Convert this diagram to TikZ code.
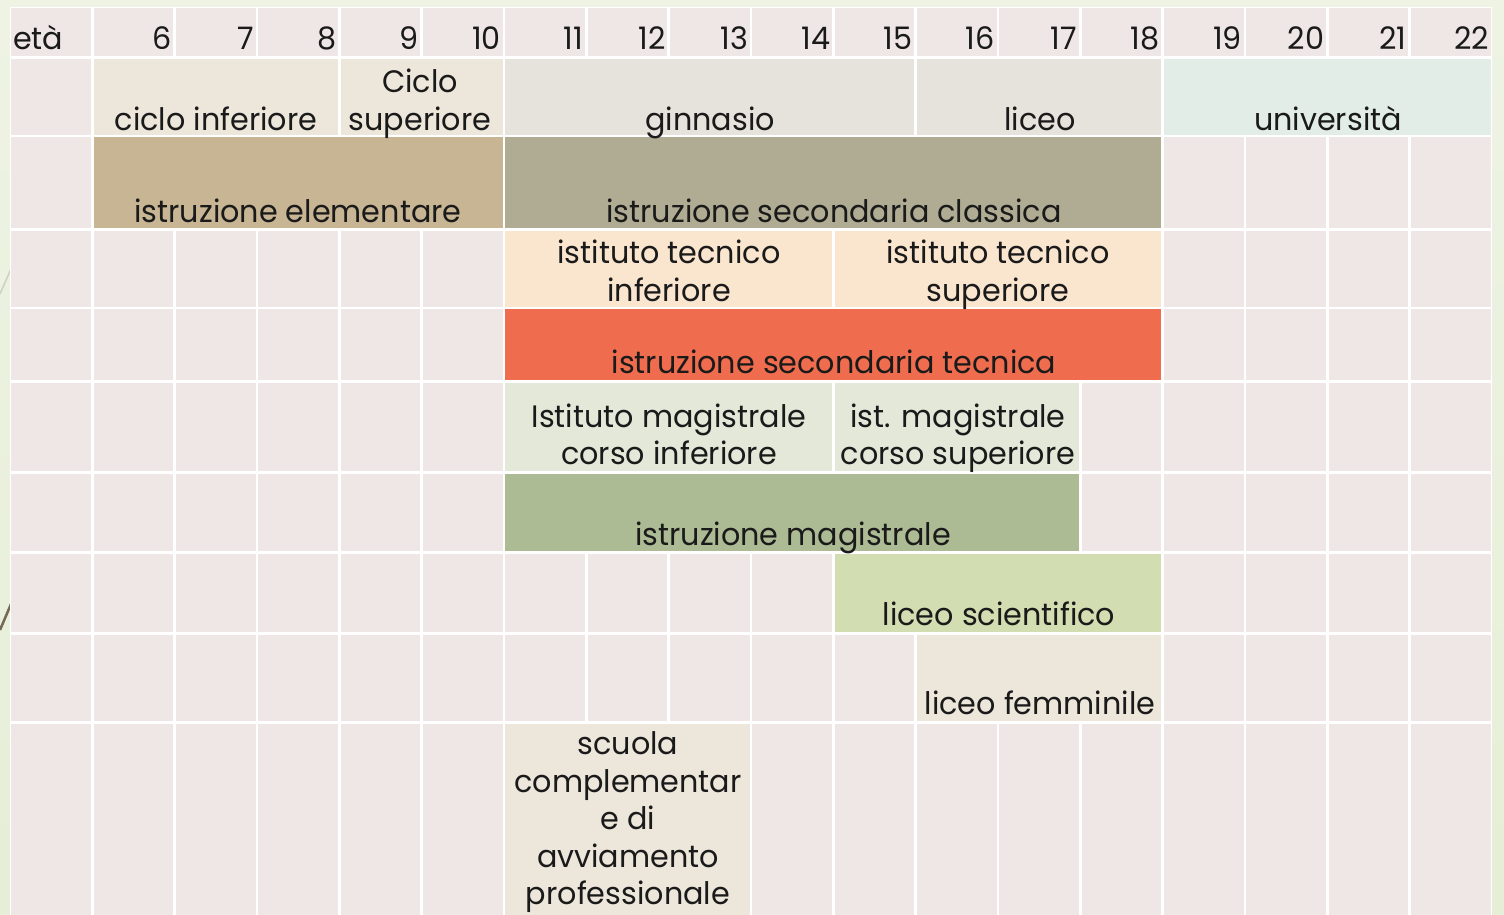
\documentclass[tikz,border=0pt]{standalone}
\usepackage{fontspec}
\setmainfont{Poppins}[FakeStretch=0.975]
\definecolor{bgg}{HTML}{E6EED7}
\definecolor{bgtop}{HTML}{EEF3E4}
\definecolor{empt}{HTML}{EFE7E6}
\definecolor{beige}{HTML}{EDE6DB}
\definecolor{ginn}{HTML}{E6E3DC}
\definecolor{univ}{HTML}{E2EDE8}
\definecolor{elem}{HTML}{C7B593}
\definecolor{class}{HTML}{B0AC93}
\definecolor{tecn}{HTML}{FAE5CF}
\definecolor{orng}{HTML}{EF6D4E}
\definecolor{magl}{HTML}{E3E8D9}
\definecolor{magd}{HTML}{ADBB95}
\definecolor{lsci}{HTML}{D2DDB1}
\definecolor{txt}{HTML}{1A1A1A}
\definecolor{decl}{HTML}{CDD0C2}
\definecolor{decd}{HTML}{736A55}
\def\RB{{7,57.5,136,229.5,308,381.5,472.5,552.5,633.5,722.5,950}}
\newcommand\cellrect[4]{%
  \pgfmathsetmacro\xa{10+82.333*#1+1.4}%
  \pgfmathsetmacro\xb{10+82.333*(#2+1)-1.4}%
  \pgfmathsetmacro\ya{\RB[#3]+1.4}%
  \pgfmathsetmacro\yb{\RB[#3+1]-1.4}%
  \fill[#4] (\xa,\ya) rectangle (\xb,\yb);}
\begin{document}
\begin{tikzpicture}[x=1pt,y=-1pt,
  lbl/.style={inner sep=0pt, anchor=base, text=txt, font=\fontsize{31}{37.5}\selectfont},
  hdr/.style={lbl, anchor=base east}]
\useasboundingbox (0,0) rectangle (1504,914);
\clip (0,0) rectangle (1504,914);
% background
\shade[top color=bgtop, bottom color=bgg] (0,0) rectangle (1504,914);
\draw[decl, line width=1.5pt] (0,294) -- (14,262);
\draw[decd, line width=2.5pt] (0,630) -- (14,597);
% table base
\fill[white] (10,7) rectangle (1492,950);
% all single cells
\foreach \r in {0,...,9}{\foreach \c in {0,...,17}{\cellrect{\c}{\c}{\r}{empt}}}
% merged cells
\cellrect{1}{3}{1}{beige}
\cellrect{4}{5}{1}{beige}
\cellrect{6}{10}{1}{ginn}
\cellrect{11}{13}{1}{ginn}
\cellrect{14}{17}{1}{univ}
\cellrect{1}{5}{2}{elem}
\cellrect{6}{13}{2}{class}
\cellrect{6}{9}{3}{tecn}
\cellrect{10}{13}{3}{tecn}
\cellrect{6}{13}{4}{orng}
\cellrect{6}{9}{5}{magl}
\cellrect{10}{12}{5}{magl}
\cellrect{6}{12}{6}{magd}
\cellrect{10}{13}{7}{lsci}
\cellrect{11}{13}{8}{beige}
\cellrect{6}{8}{9}{beige}
% header
\node[lbl, anchor=base west] (eta) at (13,49) {età};
\foreach \c in {1,...,17}{
  \pgfmathtruncatemacro\age{\c+5}
  \pgfmathsetmacro\xr{10+82.333*(\c+1)-3}
  \node[hdr] (h\c) at (\xr,49) {\age};}
% labels
\node[lbl] (cinf) at (216,130) {ciclo inferiore};
\node[lbl] (csup1) at (420,92.5) {Ciclo};
\node[lbl] (csup2) at (420,130) {superiore};
\node[lbl] (ginn) at (710,130) {ginnasio};
\node[lbl] (lic) at (1040,130) {liceo};
\node[lbl] (uni) at (1328,130) {università};
\node[lbl] (elem) at (298,222) {istruzione elementare};
\node[lbl] (class) at (834,222) {istruzione secondaria classica};
\node[lbl] (tinf1) at (669,263.5) {istituto tecnico};
\node[lbl] (tinf2) at (669,301) {inferiore};
\node[lbl] (tsup1) at (998,263.5) {istituto tecnico};
\node[lbl] (tsup2) at (998,301) {superiore};
\node[lbl] (tecn) at (834,373.5) {istruzione secondaria tecnica};
\node[lbl] (minf1) at (669,427) {Istituto magistrale};
\node[lbl] (minf2) at (669,464.5) {corso inferiore};
\node[lbl] (msup1) at (958,427) {ist. magistrale};
\node[lbl] (msup2) at (958,464.5) {corso superiore};
\node[lbl] (mag) at (793,545) {istruzione magistrale};
\node[lbl] (lsci) at (999,625.5) {liceo scientifico};
\node[lbl] (lfem) at (1040,714.5) {liceo femminile};
\node[lbl] (sc1) at (628,754.5) {scuola};
\node[lbl] (sc2) at (628,792) {complementar};
\node[lbl] (sc3) at (628,829.5) {e di};
\node[lbl] (sc4) at (628,867) {avviamento};
\node[lbl] (sc5) at (628,904.5) {professionale};
\end{tikzpicture}
\end{document}
